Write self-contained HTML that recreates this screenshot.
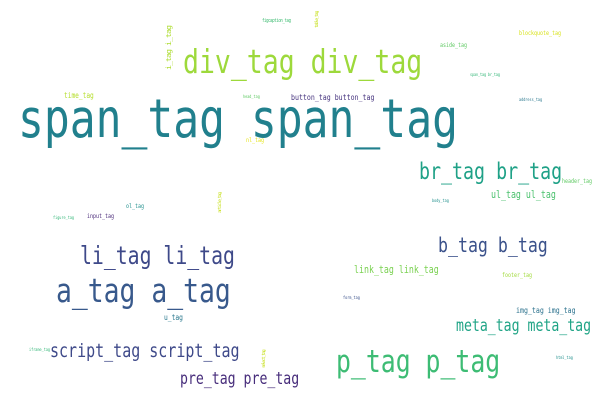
<!DOCTYPE html>
<html><head><meta charset="utf-8"><style>
html,body{margin:0;padding:0;background:#fff;width:600px;height:400px;overflow:hidden}
svg text{font-family:"DejaVu Sans Mono","Liberation Mono",monospace;}
</style></head><body>
<svg width="600" height="400" viewBox="0 0 600 400" xmlns="http://www.w3.org/2000/svg">
<rect width="600" height="400" fill="#fff"/>
<g transform="translate(18,137) scale(1,1.25)"><text font-size="43" fill="#21808d">span_tag span_tag</text></g>
<g transform="translate(183,73) scale(1,1.25)"><text font-size="26.5" fill="#9dd93b">div_tag div_tag</text></g>
<g transform="translate(171,70) rotate(-90) scale(1.25,1)"><text font-size="6.7" fill="#addc30" textLength="36">i_tag i_tag</text></g>
<g transform="translate(262,22) scale(1,1.25)"><text font-size="4" fill="#3fbc73" textLength="29">figcaption_tag</text></g>
<g transform="translate(318,28) rotate(-90) scale(1.25,1)"><text font-size="4" fill="#c8e020" textLength="14">table_tag</text></g>
<g transform="translate(519,35) scale(1,1.25)"><text font-size="5" fill="#d8e219" textLength="42">blockquote_tag</text></g>
<g transform="translate(440,47) scale(1,1.25)"><text font-size="5" fill="#5ec962" textLength="27">aside_tag</text></g>
<g transform="translate(470,76) scale(1,1.25)"><text font-size="3.5" fill="#35b779" textLength="30">span_tag br_tag</text></g>
<g transform="translate(64,98) scale(1,1.25)"><text font-size="6.2" fill="#b5de2b">time_tag</text></g>
<g transform="translate(243,98) scale(1,1.25)"><text font-size="3.5" fill="#5ec962">head_tag</text></g>
<g transform="translate(291,100) scale(1,1.25)"><text font-size="6.6" fill="#46337e">button_tag button_tag</text></g>
<g transform="translate(246,142) scale(1,1.25)"><text font-size="5" fill="#e5e419">nl_tag</text></g>
<g transform="translate(519,101) scale(1,1.25)"><text font-size="3.5" fill="#2a788e">address_tag</text></g>
<g transform="translate(419,179) scale(1,1.25)"><text font-size="18.3" fill="#1fa187">br_tag br_tag</text></g>
<g transform="translate(562,183) scale(1,1.25)"><text font-size="5" fill="#5ec962">header_tag</text></g>
<g transform="translate(491,198) scale(1,1.25)"><text font-size="8.3" fill="#4ac16d">ul_tag ul_tag</text></g>
<g transform="translate(432,202) scale(1,1.25)"><text font-size="3.5" fill="#21908d">body_tag</text></g>
<g transform="translate(126,208) scale(1,1.25)"><text font-size="5" fill="#21908d">ol_tag</text></g>
<g transform="translate(221,213) rotate(-90) scale(1.25,1)"><text font-size="4" fill="#c8e020" textLength="17">article_tag</text></g>
<g transform="translate(53,219) scale(1,1.25)"><text font-size="3.5" fill="#35b779">figure_tag</text></g>
<g transform="translate(87,218) scale(1,1.25)"><text font-size="5" fill="#482878">input_tag</text></g>
<g transform="translate(80,264) scale(1,1.25)"><text font-size="19.8" fill="#3e4989">li_tag li_tag</text></g>
<g transform="translate(438,252) scale(1,1.25)"><text font-size="16.6" fill="#3b528b">b_tag b_tag</text></g>
<g transform="translate(354,273) scale(1,1.25)"><text font-size="8.3" fill="#7ad151">link_tag link_tag</text></g>
<g transform="translate(502,277) scale(1,1.25)"><text font-size="5" fill="#a0da39">footer_tag</text></g>
<g transform="translate(56,302) scale(1,1.25)"><text font-size="26.4" fill="#38598c">a_tag a_tag</text></g>
<g transform="translate(343,299) scale(1,1.25)"><text font-size="3.5" fill="#3b528b">form_tag</text></g>
<g transform="translate(516,313) scale(1,1.25)"><text font-size="6.6" fill="#2c728e">img_tag img_tag</text></g>
<g transform="translate(164,320) scale(1,1.25)"><text font-size="6.3" fill="#2a788e">u_tag</text></g>
<g transform="translate(456,331) scale(1,1.25)"><text font-size="13.2" fill="#20a486">meta_tag meta_tag</text></g>
<g transform="translate(29,351) scale(1,1.25)"><text font-size="3.5" fill="#35b779">iframe_tag</text></g>
<g transform="translate(50,357) scale(1,1.25)"><text font-size="15" fill="#3e4989">script_tag script_tag</text></g>
<g transform="translate(265,368) rotate(-90) scale(1.25,1)"><text font-size="4" fill="#c8e020" textLength="15">select_tag</text></g>
<g transform="translate(180,384) scale(1,1.25)"><text font-size="13.2" fill="#472d7b">pre_tag pre_tag</text></g>
<g transform="translate(336,372) scale(1,1.25)"><text font-size="24.8" fill="#3dbc74">p_tag p_tag</text></g>
<g transform="translate(556,359) scale(1,1.25)"><text font-size="3.5" fill="#21908d">html_tag</text></g>
</svg>
</body></html>
